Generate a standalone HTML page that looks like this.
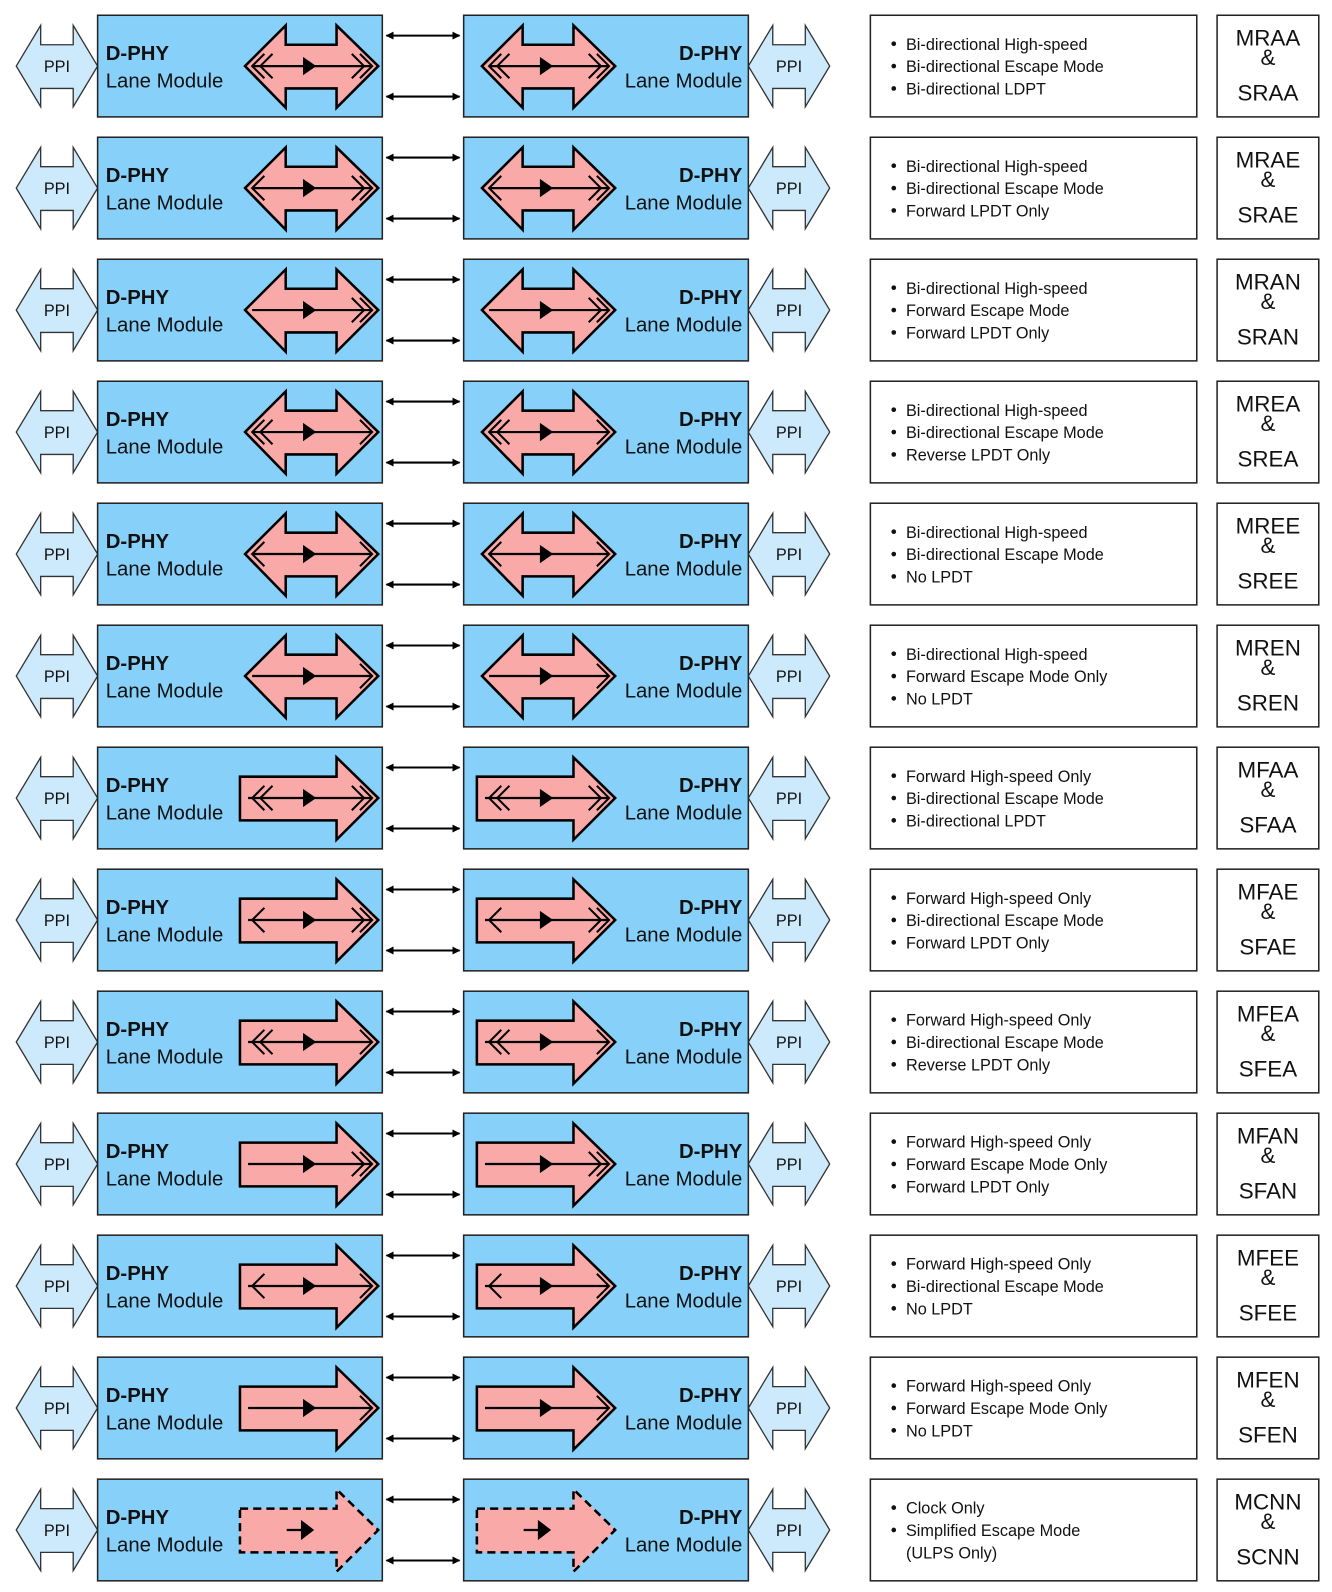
<!DOCTYPE html>
<html><head><meta charset="utf-8"><style>
html,body{margin:0;padding:0;background:#fff}
svg{display:block}
text{font-family:"Liberation Sans",Arial,sans-serif;fill:#111}
</style></head><body>
<svg width="1332" height="1592" viewBox="0 0 1310 1566" preserveAspectRatio="none" xmlns="http://www.w3.org/2000/svg">
<defs>
<marker id="ah" viewBox="0 0 10 10" refX="9" refY="5" markerWidth="4" markerHeight="4" orient="auto-start-reverse"><path d="M0,0L10,5L0,10z" fill="#000"/></marker>
<g id="base">
<polygon points="16,65 40,25 40,44 72,44 72,25 96,65 72,105 72,87 40,87 40,105" fill="#cdeafc" stroke="#333" stroke-width="1.3"/>
<polygon points="736,65 760,25 760,44 792,44 792,25 816,65 792,105 792,87 760,87 760,105" fill="#cdeafc" stroke="#333" stroke-width="1.3"/>
<text x="56" y="71" font-size="16" text-anchor="middle">PPI</text>
<text x="776" y="71" font-size="16" text-anchor="middle">PPI</text>
<rect x="96" y="15" width="280" height="100" fill="#87d0f9" stroke="#222" stroke-width="1.5"/>
<rect x="456" y="15" width="280" height="100" fill="#87d0f9" stroke="#222" stroke-width="1.5"/>
<line x1="380" y1="35" x2="452" y2="35" stroke="#000" stroke-width="2" marker-start="url(#ah)" marker-end="url(#ah)"/>
<line x1="380" y1="95" x2="452" y2="95" stroke="#000" stroke-width="2" marker-start="url(#ah)" marker-end="url(#ah)"/>
<text x="104" y="59" font-size="20" font-weight="bold">D-PHY</text>
<text x="104" y="86" font-size="20">Lane Module</text>
<text x="730" y="59" font-size="20" font-weight="bold" text-anchor="end">D-PHY</text>
<text x="730" y="86" font-size="20" text-anchor="end">Lane Module</text>
<rect x="856" y="15" width="321" height="100" fill="#fff" stroke="#222" stroke-width="1.5"/>
<rect x="1197" y="15" width="100" height="100" fill="#fff" stroke="#222" stroke-width="1.5"/>
<text x="1247" y="64" font-size="22" text-anchor="middle">&amp;</text>
<circle cx="879" cy="43" r="2.3" fill="#111"/><circle cx="879" cy="65" r="2.3" fill="#111"/>
</g>
<circle id="b3" cx="879" cy="87" r="2.3" fill="#111"/>
<g id="bi" fill="#f9aaa8" stroke="#000" stroke-width="2.5" stroke-linejoin="miter">
<polygon points="241,65 281,25 281,44 331,44 331,25 372,65 331,106 331,87 281,87 281,106"/>
<polygon points="474,65 514,25 514,44 564,44 564,25 605,65 564,106 564,87 514,87 514,106"/>
</g>
<g id="fw" fill="#f9aaa8" stroke="#000" stroke-width="2.5">
<polygon points="236,44 331,44 331,25 372,65 331,106 331,87 236,87"/>
<polygon points="469,44 564,44 564,25 605,65 564,106 564,87 469,87"/>
</g>
<g id="ln">
<line x1="248" y1="65" x2="366" y2="65" stroke="#000" stroke-width="2.2"/>
<polygon points="298,56 311,65 298,74" fill="#000"/>
<line x1="481" y1="65" x2="599" y2="65" stroke="#000" stroke-width="2.2"/>
<polygon points="531,56 544,65 531,74" fill="#000"/>
</g>
<g id="lnf">
<line x1="244" y1="65" x2="366" y2="65" stroke="#000" stroke-width="2.2"/>
<polygon points="298,56 311,65 298,74" fill="#000"/>
<line x1="477" y1="65" x2="599" y2="65" stroke="#000" stroke-width="2.2"/>
<polygon points="531,56 544,65 531,74" fill="#000"/>
</g>
<g id="r1" fill="none" stroke="#000" stroke-width="2"><path d="M354,53L366,65L354,77"/><path d="M587,53L599,65L587,77"/></g>
<g id="r2" fill="none" stroke="#000" stroke-width="2"><path d="M354,53L366,65L354,77M346,53L358,65L346,77"/><path d="M587,53L599,65L587,77M579,53L591,65L579,77"/></g>
<g id="l1" fill="none" stroke="#000" stroke-width="2"><path d="M260,53L248,65L260,77"/><path d="M493,53L481,65L493,77"/></g>
<g id="l2" fill="none" stroke="#000" stroke-width="2"><path d="M260,53L248,65L260,77M268,53L256,65L268,77"/><path d="M493,53L481,65L493,77M501,53L489,65L501,77"/></g>
</defs>

<g font-size="16">
<!-- row 1 -->
<g><use href="#base"/><use href="#b3"/><use href="#bi"/><use href="#ln"/><use href="#l2"/><use href="#r2"/>
<text x="891" y="49" font-size="16">Bi-directional High-speed</text><text x="891" y="71" font-size="16">Bi-directional Escape Mode</text><text x="891" y="93" font-size="16">Bi-directional LDPT</text>
<text x="1247" y="45" font-size="22" text-anchor="middle">MRAA</text><text x="1247" y="99" font-size="22" text-anchor="middle">SRAA</text></g>
<!-- row 2 -->
<g transform="translate(0,120)"><use href="#base"/><use href="#b3"/><use href="#bi"/><use href="#ln"/><use href="#l1"/><use href="#r2"/>
<text x="891" y="49" font-size="16">Bi-directional High-speed</text><text x="891" y="71" font-size="16">Bi-directional Escape Mode</text><text x="891" y="93" font-size="16">Forward LPDT Only</text>
<text x="1247" y="45" font-size="22" text-anchor="middle">MRAE</text><text x="1247" y="99" font-size="22" text-anchor="middle">SRAE</text></g>
<!-- row 3 -->
<g transform="translate(0,240)"><use href="#base"/><use href="#b3"/><use href="#bi"/><use href="#ln"/><use href="#r2"/>
<text x="891" y="49" font-size="16">Bi-directional High-speed</text><text x="891" y="71" font-size="16">Forward Escape Mode</text><text x="891" y="93" font-size="16">Forward LPDT Only</text>
<text x="1247" y="45" font-size="22" text-anchor="middle">MRAN</text><text x="1247" y="99" font-size="22" text-anchor="middle">SRAN</text></g>
<!-- row 4 -->
<g transform="translate(0,360)"><use href="#base"/><use href="#b3"/><use href="#bi"/><use href="#ln"/><use href="#l2"/><use href="#r1"/>
<text x="891" y="49" font-size="16">Bi-directional High-speed</text><text x="891" y="71" font-size="16">Bi-directional Escape Mode</text><text x="891" y="93" font-size="16">Reverse LPDT Only</text>
<text x="1247" y="45" font-size="22" text-anchor="middle">MREA</text><text x="1247" y="99" font-size="22" text-anchor="middle">SREA</text></g>
<!-- row 5 -->
<g transform="translate(0,480)"><use href="#base"/><use href="#b3"/><use href="#bi"/><use href="#ln"/><use href="#l1"/><use href="#r1"/>
<text x="891" y="49" font-size="16">Bi-directional High-speed</text><text x="891" y="71" font-size="16">Bi-directional Escape Mode</text><text x="891" y="93" font-size="16">No LPDT</text>
<text x="1247" y="45" font-size="22" text-anchor="middle">MREE</text><text x="1247" y="99" font-size="22" text-anchor="middle">SREE</text></g>
<!-- row 6 -->
<g transform="translate(0,600)"><use href="#base"/><use href="#b3"/><use href="#bi"/><use href="#ln"/><use href="#r1"/>
<text x="891" y="49" font-size="16">Bi-directional High-speed</text><text x="891" y="71" font-size="16">Forward Escape Mode Only</text><text x="891" y="93" font-size="16">No LPDT</text>
<text x="1247" y="45" font-size="22" text-anchor="middle">MREN</text><text x="1247" y="99" font-size="22" text-anchor="middle">SREN</text></g>
<!-- row 7 -->
<g transform="translate(0,720)"><use href="#base"/><use href="#b3"/><use href="#fw"/><use href="#lnf"/><use href="#l2"/><use href="#r2"/>
<text x="891" y="49" font-size="16">Forward High-speed Only</text><text x="891" y="71" font-size="16">Bi-directional Escape Mode</text><text x="891" y="93" font-size="16">Bi-directional LPDT</text>
<text x="1247" y="45" font-size="22" text-anchor="middle">MFAA</text><text x="1247" y="99" font-size="22" text-anchor="middle">SFAA</text></g>
<!-- row 8 -->
<g transform="translate(0,840)"><use href="#base"/><use href="#b3"/><use href="#fw"/><use href="#lnf"/><use href="#l1"/><use href="#r2"/>
<text x="891" y="49" font-size="16">Forward High-speed Only</text><text x="891" y="71" font-size="16">Bi-directional Escape Mode</text><text x="891" y="93" font-size="16">Forward LPDT Only</text>
<text x="1247" y="45" font-size="22" text-anchor="middle">MFAE</text><text x="1247" y="99" font-size="22" text-anchor="middle">SFAE</text></g>
<!-- row 9 -->
<g transform="translate(0,960)"><use href="#base"/><use href="#b3"/><use href="#fw"/><use href="#lnf"/><use href="#l2"/><use href="#r1"/>
<text x="891" y="49" font-size="16">Forward High-speed Only</text><text x="891" y="71" font-size="16">Bi-directional Escape Mode</text><text x="891" y="93" font-size="16">Reverse LPDT Only</text>
<text x="1247" y="45" font-size="22" text-anchor="middle">MFEA</text><text x="1247" y="99" font-size="22" text-anchor="middle">SFEA</text></g>
<!-- row 10 -->
<g transform="translate(0,1080)"><use href="#base"/><use href="#b3"/><use href="#fw"/><use href="#lnf"/><use href="#r2"/>
<text x="891" y="49" font-size="16">Forward High-speed Only</text><text x="891" y="71" font-size="16">Forward Escape Mode Only</text><text x="891" y="93" font-size="16">Forward LPDT Only</text>
<text x="1247" y="45" font-size="22" text-anchor="middle">MFAN</text><text x="1247" y="99" font-size="22" text-anchor="middle">SFAN</text></g>
<!-- row 11 -->
<g transform="translate(0,1200)"><use href="#base"/><use href="#b3"/><use href="#fw"/><use href="#lnf"/><use href="#l1"/><use href="#r1"/>
<text x="891" y="49" font-size="16">Forward High-speed Only</text><text x="891" y="71" font-size="16">Bi-directional Escape Mode</text><text x="891" y="93" font-size="16">No LPDT</text>
<text x="1247" y="45" font-size="22" text-anchor="middle">MFEE</text><text x="1247" y="99" font-size="22" text-anchor="middle">SFEE</text></g>
<!-- row 12 -->
<g transform="translate(0,1320)"><use href="#base"/><use href="#b3"/><use href="#fw"/><use href="#lnf"/><use href="#r1"/>
<text x="891" y="49" font-size="16">Forward High-speed Only</text><text x="891" y="71" font-size="16">Forward Escape Mode Only</text><text x="891" y="93" font-size="16">No LPDT</text>
<text x="1247" y="45" font-size="22" text-anchor="middle">MFEN</text><text x="1247" y="99" font-size="22" text-anchor="middle">SFEN</text></g>
<!-- row 13 -->
<g transform="translate(0,1440)"><use href="#base"/>
<g fill="#f9aaa8" stroke="#000" stroke-width="2.5" stroke-dasharray="8,5">
<polygon points="236,44 331,44 331,25 372,65 331,106 331,87 236,87"/>
<polygon points="469,44 564,44 564,25 605,65 564,106 564,87 469,87"/>
</g>
<line x1="282" y1="65" x2="300" y2="65" stroke="#000" stroke-width="2.2"/><polygon points="296,55 309,65 296,75" fill="#000"/>
<line x1="515" y1="65" x2="533" y2="65" stroke="#000" stroke-width="2.2"/><polygon points="529,55 542,65 529,75" fill="#000"/>
<text x="891" y="49" font-size="16">Clock Only</text><text x="891" y="71" font-size="16">Simplified Escape Mode</text><text x="891" y="93" font-size="16">(ULPS Only)</text>
<text x="1247" y="45" font-size="22" text-anchor="middle">MCNN</text><text x="1247" y="99" font-size="22" text-anchor="middle">SCNN</text></g>
</g>
</svg>
</body></html>
